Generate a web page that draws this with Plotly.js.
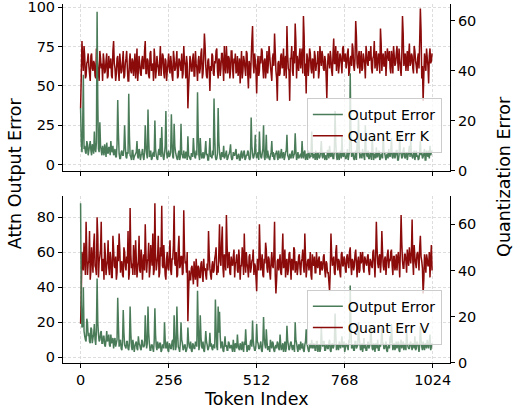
<!DOCTYPE html>
<html>
<head>
<meta charset="utf-8">
<script src="https://cdn.plot.ly/plotly-3.0.1.min.js"></script>
<style>
html,body{margin:0;padding:0;background:#fff;}
#chart{width:514px;height:413px;}
</style>
</head>
<body>
<div id="chart"></div>
<script>
// Values read at token indices 4i (…A) and 4i+2 (…B)
const tokenStep = 4;
const xTicks = [0, 256, 512, 768, 1024];

// Top panel: attention output error (left axis) and K quantization error (right axis)
const outErrKA = [
36,8,57,12,7,13,9,15,6,11,21,8,97,10,27,9,
12,6,10,14,7,11,15,8,6,10,5,41,7,4,9,6,
25,5,8,45,6,3,9,5,7,15,4,8,6,10,3,25,
7,35,5,9,4,8,28,6,3,10,17,24,5,7,34,4,
9,6,32,5,26,8,4,7,3,26,6,9,4,8,18,5,
3,7,17,5,9,46,6,17,4,8,5,15,7,3,17,6,
9,42,5,4,36,8,3,6,12,5,9,4,7,13,3,8,
6,10,4,7,3,9,5,9,4,6,8,3,30,7,5,19,
4,8,21,5,7,25,3,19,9,4,6,15,8,3,7,5,
9,4,10,6,3,8,19,5,7,4,9,6,20,3,8,5,
7,15,4,9,5,3,8,6,21,4,7,9,3,6,5,15,
4,8,6,3,9,12,5,7,4,34,6,8,3,9,18,5,
7,4,10,6,58,5,8,3,9,14,30,4,7,10,5,25,
6,9,4,8,18,3,7,11,5,9,4,6,20,8,3,7,
10,5,17,4,8,6,9,3,19,7,5,11,4,8,6,12,
16,5,7,3,9,6,4,15,8,5,10,3,7,9,12,8
];
const outErrKB = [
14,22,10,8,15,6,12,9,13,7,10,14,40,8,12,6,
9,13,5,8,11,6,9,12,7,5,13,20,4,8,6,10,
12,4,7,18,5,9,3,6,8,5,10,3,7,5,8,12,
4,16,6,3,7,5,10,4,8,6,5,9,3,12,8,6,
5,8,14,4,12,6,3,9,5,7,4,5,8,3,6,4,
7,5,9,4,6,20,3,8,5,4,9,6,3,8,5,4,
6,18,3,7,15,4,8,5,4,7,3,6,9,5,4,6,
8,4,6,3,7,4,8,3,6,9,4,5,12,4,8,7,
6,3,9,4,10,5,8,4,6,3,8,5,4,7,9,3,
5,7,4,8,5,9,6,3,5,8,4,7,9,5,4,6,
4,6,8,3,7,9,4,5,8,6,3,5,8,4,9,6,
7,3,5,9,4,6,8,4,10,14,3,5,7,4,6,8,
4,6,3,8,20,7,4,6,3,8,12,6,4,7,3,9,
5,4,7,3,9,6,4,5,8,3,7,4,9,5,6,4,
6,8,5,7,4,9,3,6,8,4,9,5,7,3,8,5,
7,4,9,6,5,3,8,6,4,7,3,9,5,4,6,9
];
const quantErrKA = [
25,52,40,46,38,44,42,36,47,40,43,37,45,39,48,41,
36,44,40,47,38,42,45,37,52,41,39,46,36,43,40,48,
38,45,41,36,47,39,44,42,37,49,40,43,38,46,41,52,
39,44,37,48,41,36,45,40,43,38,50,42,46,37,44,40,
47,39,43,36,45,41,48,38,44,40,37,50,42,46,25,39,
44,40,47,38,43,36,46,41,49,39,55,42,37,45,32,40,
46,38,43,49,37,44,41,47,36,42,50,39,45,40,48,37,
43,39,46,41,35,48,40,44,38,47,33,42,45,58,39,44,
31,46,40,43,48,37,45,41,39,50,42,36,47,55,40,28,
44,39,47,42,38,46,58,41,28,45,40,48,59,37,43,46,
41,49,62,38,31,45,42,47,39,44,48,40,43,37,50,42,
46,40,44,29,47,41,45,38,53,43,40,48,42,46,39,50,
44,41,47,38,45,42,49,40,60,43,46,39,48,41,45,37,
47,42,44,50,39,46,41,48,43,45,57,40,47,42,38,49,
44,41,48,39,46,43,50,40,45,38,62,42,47,44,40,51,
43,46,39,48,42,45,41,65,37,28,47,40,45,35,49,44
];
const quantErrKB = [
38,45,50,37,43,47,39,46,41,44,38,49,42,36,45,43,
47,39,44,37,46,41,38,48,43,36,45,40,47,39,44,37,
43,48,36,44,40,45,38,47,42,36,46,39,44,41,48,39,
45,38,47,40,43,49,37,46,41,44,38,47,39,45,36,43,
41,46,38,48,40,44,37,45,42,47,39,44,37,43,33,46,
40,45,38,48,41,44,39,47,37,45,50,38,44,40,42,47,
39,44,48,40,45,38,47,42,50,39,44,46,37,48,41,45,
47,40,38,45,42,37,46,41,48,39,44,37,52,43,47,40,
42,38,46,49,41,44,37,48,43,46,39,45,42,48,37,43,
38,46,41,49,44,37,47,40,45,50,38,43,52,46,40,49,
45,39,54,43,47,38,49,41,45,37,46,43,48,40,45,48,
41,46,38,42,44,48,40,47,43,50,45,39,47,43,49,44,
47,43,49,40,46,51,42,45,54,41,48,44,40,47,43,50,
43,48,46,41,45,52,44,40,47,39,51,45,42,48,44,46,
48,39,45,50,42,47,44,49,41,46,55,44,40,48,46,42,
47,41,50,44,39,47,52,56,42,38,44,49,42,46,43,47
];

// Bottom panel: attention output error (left axis) and V quantization error (right axis)
const outErrVA = [
88,17,40,12,9,20,14,8,16,11,19,7,45,13,10,15,
8,12,6,15,10,7,13,9,5,11,8,34,6,10,4,27,
7,5,9,4,29,6,10,3,8,5,12,7,4,9,6,24,
5,29,8,4,7,3,28,6,9,5,8,4,7,20,5,9,
3,7,5,10,24,4,29,6,3,20,8,5,7,4,17,6,
9,3,7,5,8,38,4,24,6,9,3,15,7,5,14,8,
4,7,33,6,29,26,5,9,3,12,7,4,8,6,5,10,
3,7,13,5,8,4,6,9,16,3,7,5,10,21,6,4,
19,8,5,9,3,23,7,16,4,6,10,5,8,3,7,9,
5,13,4,8,6,3,18,7,5,9,4,6,20,8,3,7,
9,5,4,7,16,6,3,8,10,5,7,4,9,6,3,17,
6,9,4,7,5,10,3,8,6,25,4,7,9,5,12,6,
3,8,6,10,41,5,7,4,9,6,20,8,5,3,11,7,
4,9,6,18,5,8,3,7,10,4,6,17,8,5,9,3,
7,12,19,4,8,6,5,9,3,10,7,4,8,16,6,5,
9,4,7,12,5,8,3,18,6,9,4,7,10,5,13,6
];
const outErrVB = [
30,18,15,10,22,12,9,17,8,13,10,15,20,9,14,8,
12,7,10,9,13,6,8,11,9,6,10,18,8,5,9,14,
6,9,5,8,14,4,7,6,9,4,8,5,10,6,7,12,
8,14,4,7,5,9,13,4,6,8,3,7,5,10,6,4,
8,5,9,4,12,6,14,5,8,10,4,7,3,6,9,5,
4,8,5,9,6,18,7,12,5,4,8,9,4,7,6,5,
7,5,16,4,14,12,8,4,7,6,4,9,5,7,3,6,
8,5,7,4,6,9,3,7,8,5,4,9,6,10,4,7,
9,5,7,4,8,11,5,9,6,3,7,9,4,6,5,8,
4,7,6,3,9,5,10,4,8,6,7,3,10,5,7,4,
6,8,3,9,8,4,7,5,6,8,4,9,3,7,5,8,
9,4,7,5,8,4,7,5,9,13,6,4,7,8,6,9,
5,7,4,8,18,6,4,9,5,7,11,4,8,6,5,4,
7,5,8,9,4,6,8,5,4,7,9,8,5,7,4,6,
5,8,10,6,4,9,7,4,8,5,9,6,4,9,5,8,
6,8,5,4,9,6,7,10,4,6,8,5,7,9,4,8
];
const quantErrVA = [
17,48,40,45,61,38,44,36,50,39,56,41,63,37,46,61,
40,36,47,42,53,38,45,37,49,41,36,51,56,39,44,37,
48,40,43,36,67,41,38,46,53,37,44,40,49,36,47,60,
39,45,37,51,42,38,69,40,46,37,50,68,41,44,36,48,
40,53,38,45,68,42,37,49,41,46,38,66,43,39,18,40,
36,42,34,39,45,33,41,37,44,35,40,38,43,57,41,36,
44,40,47,38,39,60,42,59,37,45,64,41,48,38,43,46,
37,44,40,49,36,42,46,56,39,43,37,47,41,45,38,42,
31,44,60,40,47,37,43,49,39,45,36,48,41,61,30,44,
40,47,38,56,42,37,45,40,48,36,43,50,39,44,41,47,
38,45,42,56,37,44,40,48,36,43,46,39,42,45,38,44,
41,47,37,43,39,31,56,42,46,38,51,40,44,37,48,42,
45,39,47,41,50,38,44,42,49,37,46,40,43,48,39,45,
42,47,38,44,41,49,37,61,43,46,39,57,42,45,38,47,
41,44,49,38,46,42,40,48,37,64,44,41,47,39,45,50,
43,62,38,46,41,48,40,55,44,30,47,39,45,42,37,51
];
const quantErrVB = [
30,45,52,38,48,43,57,40,45,51,42,38,55,44,49,40,
45,52,38,44,41,48,37,55,42,46,39,44,49,43,38,50,
42,46,57,39,47,43,51,38,45,41,55,39,46,43,40,48,
44,52,41,46,56,40,47,43,55,39,46,42,51,38,45,41,
47,40,45,51,43,48,38,55,42,46,39,49,44,48,30,36,
41,38,44,36,40,42,37,43,38,45,41,36,40,47,38,42,
39,45,50,42,48,44,52,41,47,40,51,45,39,46,42,49,
43,47,39,45,42,50,38,44,48,41,46,39,44,49,43,37,
45,40,48,43,38,45,52,41,46,39,44,42,47,38,36,45,
43,39,46,41,49,44,38,47,42,45,40,49,43,38,46,41,
44,49,39,46,41,45,43,38,47,42,39,48,41,46,43,40,
46,40,44,39,35,40,47,44,39,48,43,45,39,47,42,46,
40,46,43,48,42,45,40,47,43,44,39,48,45,41,46,43,
46,40,45,42,48,43,46,50,41,47,44,48,40,46,43,49,
45,48,42,46,40,47,45,43,50,52,41,47,44,49,42,46,
48,44,51,43,47,45,50,46,41,36,44,47,42,48,45,40
];

// Merge the two sets of readings in token order
function merge(a, b) {
  const out = [];
  for (let i = 0; i < a.length; i++) { out.push(a[i]); out.push(b[i]); }
  return out;
}
const tokenIndex = [];
for (let i = 0; i < outErrKA.length; i++) { tokenIndex.push(i * tokenStep); tokenIndex.push(i * tokenStep + tokenStep / 2); }

const outErrK = merge(outErrKA, outErrKB);
const quantErrK = merge(quantErrKA, quantErrKB);
const outErrV = merge(outErrVA, outErrVB);
const quantErrV = merge(quantErrVA, quantErrVB);

const GREEN = '#4a7c59';
const RED = '#8b0a0a';
const FONT = 'DejaVu Sans, Liberation Sans, sans-serif';
const LW = 1.5;

const traces = [
  {x: tokenIndex, y: quantErrK, xaxis: 'x', yaxis: 'y', type: 'scatter', mode: 'lines',
   name: 'Quant Err K', line: {color: RED, width: LW, simplify: false}, legend: 'legend', legendrank: 2},
  {x: tokenIndex, y: outErrK, xaxis: 'x', yaxis: 'y2', type: 'scatter', mode: 'lines',
   name: 'Output Error', line: {color: GREEN, width: LW, simplify: false}, legend: 'legend', legendrank: 1},
  {x: tokenIndex, y: quantErrV, xaxis: 'x2', yaxis: 'y3', type: 'scatter', mode: 'lines',
   name: 'Quant Err V', line: {color: RED, width: LW, simplify: false}, legend: 'legend2', legendrank: 2},
  {x: tokenIndex, y: outErrV, xaxis: 'x2', yaxis: 'y4', type: 'scatter', mode: 'lines',
   name: 'Output Error', line: {color: GREEN, width: LW, simplify: false}, legend: 'legend2', legendrank: 1}
];

const gridCommon = {gridcolor: '#d4d4d4', gridwidth: 0.8, griddash: '3px,2px'};
const tickFont = {family: FONT, size: 14.5, color: '#000'};
const axisCommon = {showline: true, linecolor: '#000', linewidth: 1, ticks: 'outside', ticklen: 4,
  tickwidth: 1, tickcolor: '#000', tickfont: tickFont, zeroline: false, automargin: false,
  fixedrange: true, ticklabeloverflow: 'allow'};

const topDom = [0.5355, 1];
const botDom = [0, 0.466];
const xRange = [-51.15, 1074.15];

const layout = {
  width: 514, height: 413,
  margin: {l: 63, r: 64, t: 4, b: 50},
  paper_bgcolor: '#fff', plot_bgcolor: 'rgba(0,0,0,0)',
  font: {family: FONT, size: 14.5, color: '#000'},
  showlegend: true,
  xaxis: Object.assign({}, axisCommon, gridCommon, {domain: [0, 1], anchor: 'y', range: xRange,
    tickvals: xTicks, showticklabels: false, showgrid: true}),
  xaxis2: Object.assign({}, axisCommon, gridCommon, {domain: [0, 1], anchor: 'y3', range: xRange,
    tickvals: xTicks, ticktext: xTicks.map(String), showgrid: true}),
  yaxis: Object.assign({}, axisCommon, {domain: topDom, anchor: 'x', side: 'right', range: [0, 66.8],
    tickvals: [0, 20, 40, 60], showgrid: false}),
  yaxis2: Object.assign({}, axisCommon, gridCommon, {domain: topDom, anchor: 'x', overlaying: 'y', side: 'left',
    range: [-3.8, 101.9], tickvals: [0, 25, 50, 75, 100], showgrid: true}),
  yaxis3: Object.assign({}, axisCommon, {domain: botDom, anchor: 'x2', side: 'right', range: [0, 72.3],
    tickvals: [0, 20, 40, 60], showgrid: false}),
  yaxis4: Object.assign({}, axisCommon, gridCommon, {domain: botDom, anchor: 'x2', overlaying: 'y3', side: 'left',
    range: [-3.3, 92.3], tickvals: [0, 20, 40, 60, 80], showgrid: true}),
  legend: {x: 0.979, xanchor: 'right', y: 0.7385, yanchor: 'top', bgcolor: 'rgba(255,255,255,0.8)',
    bordercolor: '#cccccc', borderwidth: 1, font: {family: FONT, size: 14, color: '#000'},
    tracegroupgap: 0, itemwidth: 30},
  legend2: {x: 0.979, xanchor: 'right', y: 0.2045, yanchor: 'top', bgcolor: 'rgba(255,255,255,0.8)',
    bordercolor: '#cccccc', borderwidth: 1, font: {family: FONT, size: 14, color: '#000'},
    tracegroupgap: 0, itemwidth: 30},
  annotations: [
    {text: 'Token Index', xref: 'paper', yref: 'paper', x: 0.5, y: -0.1, xanchor: 'center', yanchor: 'middle',
     showarrow: false, font: {family: FONT, size: 17.5, color: '#000'}},
    {text: 'Attn Output Error', xref: 'paper', yref: 'paper', x: -0.124, y: 0.5285, xanchor: 'center', yanchor: 'middle',
     textangle: -90, showarrow: false, font: {family: FONT, size: 17.5, color: '#000'}},
    {text: 'Quantization Error', xref: 'paper', yref: 'paper', x: 1.141, y: 0.52, xanchor: 'center', yanchor: 'middle',
     textangle: -90, showarrow: false, font: {family: FONT, size: 17.5, color: '#000'}}
  ]
};

Plotly.newPlot('chart', traces, layout, {staticPlot: true, displayModeBar: false});
</script>
</body>
</html>
